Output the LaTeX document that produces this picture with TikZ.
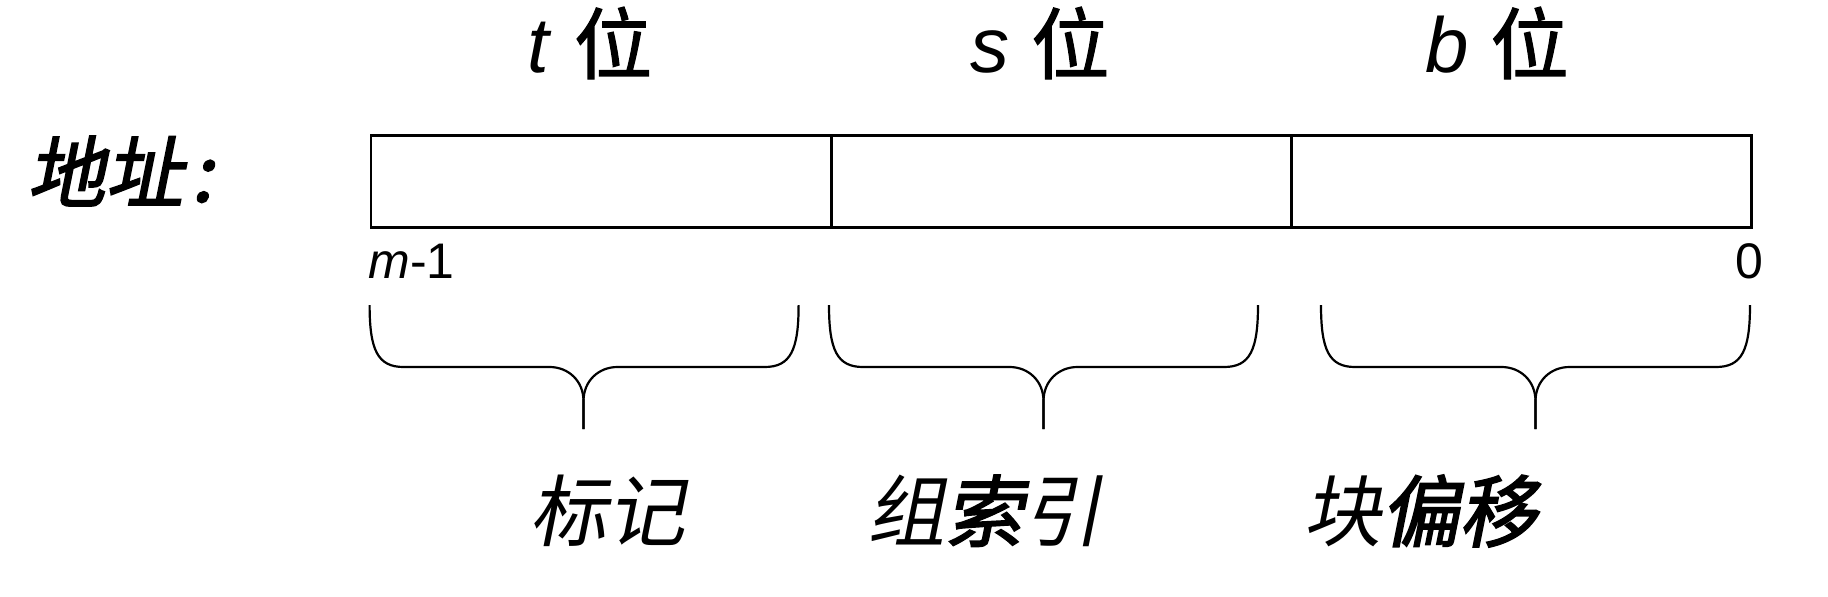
\documentclass[tikz,border=0pt]{standalone}
\usepackage{fontspec}
\setmainfont{Liberation Sans}
\newfontfamily\cjk[FakeBold=1.5]{Noto Sans CJK SC}
\newfontfamily\cjksl[FakeSlant=0.2]{Noto Sans CJK SC}
\newfontfamily\cjkslbold[FakeSlant=0.2,FakeBold=2.2]{Noto Sans CJK SC}
\newcommand\curlyb[3]{%
  \draw[bracestroke] (#1,305) .. controls (#1,350) and (#1+8,367) .. (#1+34,367)
     -- (#3-34,367) .. controls (#3-15,367) and (#3,381) .. (#3,401) -- (#3,429);
  \draw[bracestroke] (#2,305) .. controls (#2,350) and (#2-8,367) .. (#2-34,367)
     -- (#3+34,367) .. controls (#3+15,367) and (#3,381) .. (#3,401) -- (#3,429);
}
\begin{document}
\begin{tikzpicture}[x=0.5pt,y=-0.5pt,
  cell/.style={draw, line width=1.3pt, minimum width=230pt, minimum height=46pt,
    inner sep=0pt, anchor=north west},
  bracestroke/.style={line width=1.1pt, line cap=butt, line join=round},
  toplbl/.style={inner sep=0pt, font=\fontsize{39}{44}\selectfont},
  botlbl/.style={inner sep=0pt, font=\fontsize{39}{44}\selectfont\cjksl},
  sidelbl/.style={inner sep=0pt, font=\fontsize{39}{44}\selectfont\cjkslbold},
  bitlbl/.style={inner sep=0pt, font=\fontsize{25}{28}\selectfont}]
\useasboundingbox (0,0) rectangle (1828,596);
\fill[white] (0,0) rectangle (1828,596);
% address fields
\node[cell] (c1) at (369.6,134) {};
\node[cell] (c2) at (830,134) {};
\node[cell] (c3) at (1290,134) {};
% top labels
\node[toplbl] (tt) at (590,43) {\textit{t} {\cjk 位}};
\node[toplbl] (ts) at (1040,43) {\textit{s} {\cjk 位}};
\node[toplbl] (tb) at (1497,43) {\textit{b} {\cjk 位}};
% side label
\node[sidelbl] (addr) at (120,171) {地址\hspace{4pt}:};
% bit numbers
\node[bitlbl, anchor=base west] (m1) at (368,278) {\textit{m}-1};
\node[bitlbl, anchor=base] (z0) at (1749,278) {0};
% braces
\curlyb{369.6}{798.6}{583.5}
\curlyb{829}{1258}{1043.5}
\curlyb{1321}{1750}{1535.5}
% bottom labels
\node[botlbl] (l1) at (607,511) {标记};
\node[botlbl] (l2) at (984,511) {组{\cjkslbold 索}引};
\node[botlbl] (l3) at (1420,511) {块{\cjkslbold 偏移}};
\end{tikzpicture}
\end{document}
